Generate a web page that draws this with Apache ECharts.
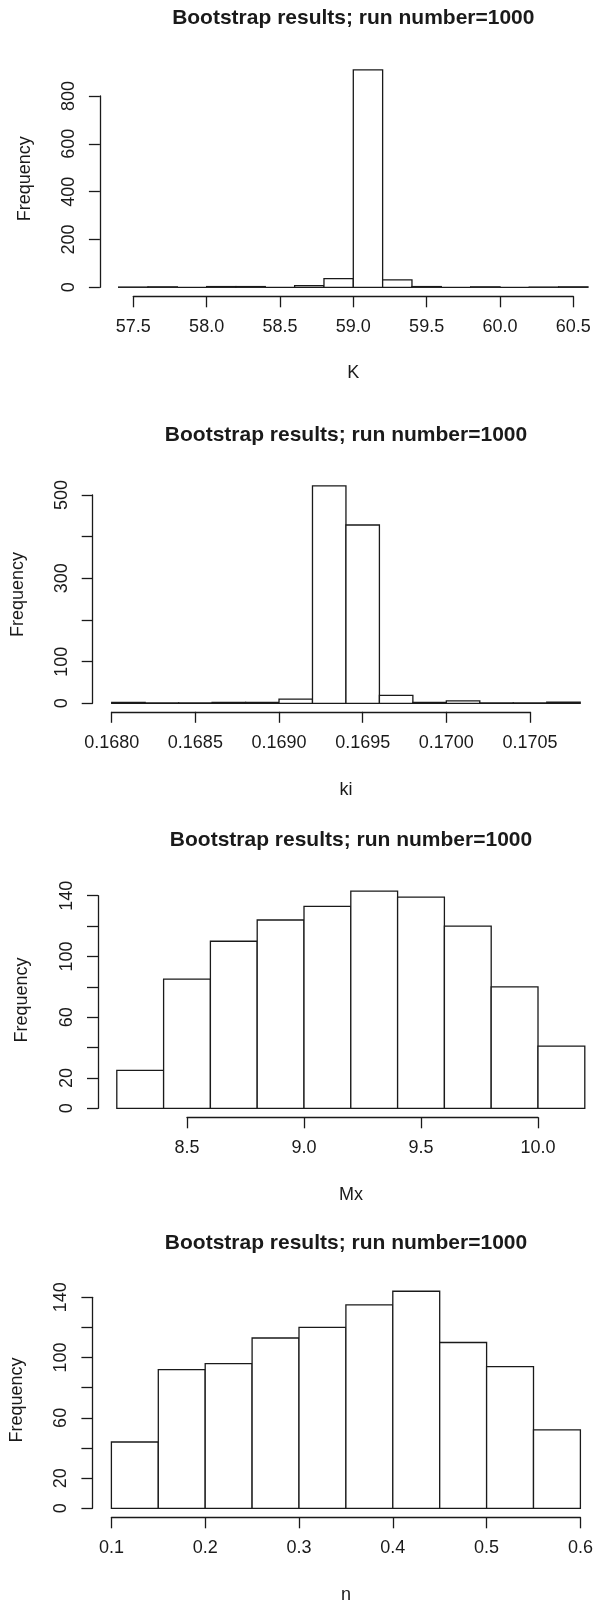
<!DOCTYPE html>
<html>
<head>
<meta charset="utf-8">
<title>Bootstrap results</title>
<script src="https://cdn.jsdelivr.net/npm/echarts@6/dist/echarts.min.js"></script>
<style>
html, body { margin: 0; padding: 0; background: #fff; }
#chart { width: 596px; height: 1605px; }
</style>
</head>
<body>
<div id="chart"></div>
<script>
// histogram breaks and counts
var kBreaks = [57.4, 57.6, 57.8, 58.0, 58.2, 58.4, 58.6, 58.8, 59.0, 59.2, 59.4, 59.6, 59.8, 60.0, 60.2, 60.4, 60.6]
var kCounts = [1, 2, 0, 3, 3, 0, 7, 36, 909, 31, 3, 0, 2, 0, 1, 2]
var kXTicks = [57.5, 58.0, 58.5, 59.0, 59.5, 60.0, 60.5]
var kYTicks = [0, 200, 400, 600, 800]
var kYLabels = [0, 200, 400, 600, 800]

var kiBreaks = [0.1680, 0.1682, 0.1684, 0.1686, 0.1688, 0.1690, 0.1692, 0.1694, 0.1696, 0.1698, 0.1700, 0.1702, 0.1704, 0.1706, 0.1708]
var kiCounts = [2, 1, 1, 2, 2, 10, 522, 428, 19, 2, 6, 1, 1, 3]
var kiXTicks = [0.1680, 0.1685, 0.1690, 0.1695, 0.1700, 0.1705]
var kiYTicks = [0, 100, 200, 300, 400, 500]
var kiYLabels = [0, 100, 300, 500]

var mxBreaks = [8.2, 8.4, 8.6, 8.8, 9.0, 9.2, 9.4, 9.6, 9.8, 10.0, 10.2]
var mxCounts = [25, 85, 110, 124, 133, 143, 139, 120, 80, 41]
var mxXTicks = [8.5, 9.0, 9.5, 10.0]
var mxYTicks = [0, 20, 40, 60, 80, 100, 120, 140]
var mxYLabels = [0, 20, 60, 100, 140]

var nBreaks = [0.10, 0.15, 0.20, 0.25, 0.30, 0.35, 0.40, 0.45, 0.50, 0.55, 0.60]
var nCounts = [44, 92, 96, 113, 120, 135, 144, 110, 94, 52]
var nXTicks = [0.1, 0.2, 0.3, 0.4, 0.5, 0.6]
var nYTicks = [0, 20, 40, 60, 80, 100, 120, 140]
var nYLabels = [0, 20, 60, 100, 140]

var TITLE = 'Bootstrap results; run number=1000'
var INK = '#1a1a1a'
var FONT = '"Liberation Sans", Arial, Helvetica, sans-serif'

var panels = [
  { name: 'K', breaks: kBreaks, counts: kCounts, xTicks: kXTicks, yTicks: kYTicks, yLabels: kYLabels, dec: 1,
    grid: { left: 133.3, right: 22.7, top: 96, bottom: 1317.7 }, xOffset: 9, yOffset: 33.4,
    titleAt: [353.3, 18.3], nameAt: [353.3, 373.3], freqAt: [24.7, 178.7] },
  { name: 'ki', breaks: kiBreaks, counts: kiCounts, xTicks: kiXTicks, yTicks: kiYTicks, yLabels: kiYLabels, dec: 4,
    grid: { left: 111.7, right: 66, top: 495, bottom: 901.7 }, xOffset: 8.5, yOffset: 19,
    titleAt: [346, 435], nameAt: [346, 790], freqAt: [18.5, 594.5] },
  { name: 'Mx', breaks: mxBreaks, counts: mxCounts, xTicks: mxXTicks, yTicks: mxYTicks, yLabels: mxYLabels, dec: 1,
    grid: { left: 187, right: 58, top: 895.7, bottom: 496.7 }, xOffset: 9, yOffset: 89,
    titleAt: [351, 840], nameAt: [351, 1195], freqAt: [22, 1000] },
  { name: 'n', breaks: nBreaks, counts: nCounts, xTicks: nXTicks, yTicks: nYTicks, yLabels: nYLabels, dec: 1,
    grid: { left: 111.4, right: 15.6, top: 1297.3, bottom: 96.7 }, xOffset: 9, yOffset: 19,
    titleAt: [346, 1243], nameAt: [346, 1595], freqAt: [17, 1400] }
]

function histItem(params, api) {
  var topLeft = api.coord([api.value(0), api.value(2)])
  var bottomRight = api.coord([api.value(1), 0])
  return {
    type: 'rect',
    shape: {
      x: topLeft[0],
      y: topLeft[1],
      width: bottomRight[0] - topLeft[0],
      height: bottomRight[1] - topLeft[1]
    },
    style: { fill: '#fff', stroke: INK, lineWidth: 1.3 }
  }
}

function textEl(text, pos, font, rotation) {
  return {
    type: 'text',
    x: pos[0],
    y: pos[1],
    rotation: rotation || 0,
    style: { text: text, font: font, fill: INK, align: 'center', verticalAlign: 'middle' }
  }
}

var grids = []
var xAxes = []
var yAxes = []
var series = []
var graphics = []

panels.forEach(function(p, i) {
  var g = p.grid
  grids.push({ left: g.left, right: g.right, top: g.top, bottom: g.bottom, containLabel: false, outerBoundsMode: 'none' })

  xAxes.push({
    gridIndex: i,
    type: 'value',
    min: p.xTicks[0],
    max: p.xTicks[p.xTicks.length - 1],
    interval: p.xTicks[1] - p.xTicks[0],
    position: 'bottom',
    offset: p.xOffset,
    axisLine: { show: true, onZero: false, lineStyle: { color: INK, width: 1.3 } },
    axisTick: { show: true, length: 11, lineStyle: { color: INK, width: 1.3 } },
    axisLabel: {
      show: true, margin: 22, fontSize: 18, fontFamily: FONT, color: INK,
      showMinLabel: true, showMaxLabel: true,
      formatter: function(v) { return Number(v).toFixed(p.dec) }
    },
    splitLine: { show: false }
  })

  yAxes.push({
    gridIndex: i,
    type: 'value',
    min: p.yTicks[0],
    max: p.yTicks[p.yTicks.length - 1],
    interval: p.yTicks[1] - p.yTicks[0],
    position: 'left',
    offset: p.yOffset,
    axisLine: { show: true, onZero: false, lineStyle: { color: INK, width: 1.3 } },
    axisTick: { show: true, length: 11, lineStyle: { color: INK, width: 1.3 } },
    axisLabel: {
      show: true, rotate: 90, margin: 22, fontSize: 18, fontFamily: FONT, color: INK,
      showMinLabel: true, showMaxLabel: true,
      formatter: function(v) {
        return p.yLabels.indexOf(Math.round(v)) >= 0 ? String(Math.round(v)) : ''
      }
    },
    splitLine: { show: false }
  })

  var bins = []
  for (var j = 0; j < p.counts.length; j++) {
    bins.push([p.breaks[j], p.breaks[j + 1], p.counts[j]])
  }
  series.push({
    type: 'custom',
    xAxisIndex: i,
    yAxisIndex: i,
    clip: false,
    silent: true,
    renderItem: histItem,
    encode: { x: [0, 1], y: 2 },
    data: bins
  })

  graphics.push(textEl(TITLE, p.titleAt, 'bold 21px ' + FONT))
  graphics.push(textEl(p.name, p.nameAt, '18px ' + FONT))
  graphics.push(textEl('Frequency', p.freqAt, '18px ' + FONT, Math.PI / 2))
})

var chart = echarts.init(document.getElementById('chart'), null, { renderer: 'canvas' })
chart.setOption({
  animation: false,
  backgroundColor: '#fff',
  grid: grids,
  xAxis: xAxes,
  yAxis: yAxes,
  series: series,
  graphic: graphics
})
</script>
</body>
</html>
